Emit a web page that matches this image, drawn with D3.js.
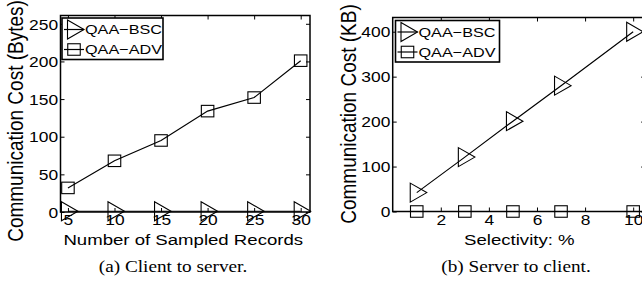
<!DOCTYPE html>
<html>
<head>
<meta charset="utf-8">
<script src="https://cdn.jsdelivr.net/npm/d3@7"></script>
<style>
  html, body { margin: 0; padding: 0; background: #fff; }
  svg { display: block; }
  text { font-family: "Liberation Sans", Arial, sans-serif; fill: #000; }
  text.caption { font-family: "Liberation Serif", "Times New Roman", serif; }
</style>
</head>
<body>
<div id="chart"></div>
<script>
// (a) client to server
const sampledRecords = [5, 10, 15, 20, 25, 30];
const bscBytes = [1, 1, 1, 1, 1, 1];
const advBytes = [32, 68, 95, 134, 152, 201];
const recordTicks = [5, 10, 15, 20, 25, 30];
const bytesTicks = [0, 50, 100, 150, 200, 250];

// (b) server to client
const selectivity = [1, 3, 5, 7, 10];
const bscKB = [42, 121, 201, 280, 400];
const advKB = [0, 0, 0, 0, 0];
const selTicks = [2, 4, 6, 8, 10];
const kbTicks = [0, 100, 200, 300, 400];

const seriesNames = ['QAA\u2212BSC', 'QAA\u2212ADV'];
const captions = ['(a) Client to server.', '(b) Server to client.'];

const W = 642, H = 285;
const SX = 1.2; // glyphs in the picture are stretched sideways

const svg = d3.select('#chart').append('svg')
  .attr('width', W)
  .attr('height', H);

const triPath = 'M-6.5,-9.5L10,0L-6.5,9.5Z';

function drawPanel(cfg) {
  const x = d3.scaleLinear().domain(cfg.xDomain).range(cfg.xRange);
  const y = d3.scaleLinear().domain(cfg.yDomain).range(cfg.yRange);
  const [x0, x1] = cfg.xRange;
  const [y0, y1] = cfg.yRange; // y0 bottom, y1 top

  const g = svg.append('g');

  // ticks, inside the box, on all four sides
  const bottom = g.append('g').attr('transform', `translate(0,${y0})`)
    .call(d3.axisBottom(x).tickValues(cfg.xTicks).tickSizeInner(-4).tickSizeOuter(0).tickPadding(3));
  const top = g.append('g').attr('transform', `translate(0,${y1})`)
    .call(d3.axisTop(x).tickValues(cfg.xTicks).tickSizeInner(-4).tickSizeOuter(0).tickFormat(''));
  const left = g.append('g').attr('transform', `translate(${x0},0)`)
    .call(d3.axisLeft(y).tickValues(cfg.yTicks).tickSizeInner(-4).tickSizeOuter(0).tickPadding(2));
  const right = g.append('g').attr('transform', `translate(${x1},0)`)
    .call(d3.axisRight(y).tickValues(cfg.yTicks).tickSizeInner(-4).tickSizeOuter(0).tickFormat(''));

  [bottom, top, left, right].forEach(a => {
    a.select('.domain').remove();
    a.selectAll('line').attr('stroke', '#000').attr('stroke-width', 1);
    a.selectAll('text')
      .attr('font-size', 14.5)
      .attr('fill', '#000')
      .attr('transform', `scale(${SX},1)`);
  });
  left.selectAll('text').attr('dy', '0.36em');

  // box
  g.append('rect')
    .attr('x', x0).attr('y', y1)
    .attr('width', x1 - x0).attr('height', y0 - y1)
    .attr('fill', 'none').attr('stroke', '#000').attr('stroke-width', 1.5);

  const line = d3.line().x(d => x(d[0])).y(d => y(d[1]));

  cfg.series.forEach((s, i) => {
    const pts = cfg.xs.map((v, j) => [v, s[j]]);
    g.append('path')
      .attr('d', line(pts))
      .attr('fill', 'none').attr('stroke', '#000').attr('stroke-width', 1.2);
    const m = g.append('g').selectAll('g').data(pts).join('g')
      .attr('transform', d => `translate(${x(d[0])},${y(d[1])})`);
    if (i === 0) {
      m.append('path').attr('d', triPath)
        .attr('fill', 'none').attr('stroke', '#000').attr('stroke-width', 1.1);
    } else {
      m.append('rect').attr('x', -6.25).attr('y', -5.75).attr('width', 12.5).attr('height', 11.5)
        .attr('fill', 'none').attr('stroke', '#000').attr('stroke-width', 1.1);
    }
  });

  // legend
  const lg = g.append('g').attr('transform', `translate(${cfg.legend[0]},${cfg.legend[1]})`);
  lg.append('rect').attr('width', cfg.legendW).attr('height', 41.5)
    .attr('fill', '#fff').attr('stroke', '#000').attr('stroke-width', 1.6);
  seriesNames.forEach((name, i) => {
    const row = lg.append('g').attr('transform', `translate(0,${11.5 + i * 20})`);
    row.append('line').attr('x1', 2).attr('x2', 22)
      .attr('stroke', '#000').attr('stroke-width', 1.2);
    if (i === 0) {
      row.append('path').attr('d', triPath).attr('transform', 'translate(12,0)')
        .attr('fill', 'none').attr('stroke', '#000').attr('stroke-width', 1.1);
    } else {
      row.append('rect').attr('x', 12 - 6.25).attr('y', -5.75).attr('width', 12.5).attr('height', 11.5)
        .attr('fill', 'none').attr('stroke', '#000').attr('stroke-width', 1.1);
    }
    row.append('text')
      .attr('transform', `translate(23,0) scale(${SX},1)`)
      .attr('dy', '0.36em')
      .attr('font-size', 13.5)
      .text(name);
  });

  // axis titles
  g.append('text')
    .attr('transform', `translate(${(x0 + Math.min(x1, W)) / 2 + cfg.xLabelShift},${y0 + 33}) scale(${SX},1)`)
    .attr('text-anchor', 'middle')
    .attr('font-size', 15.5)
    .text(cfg.xLabel);
  g.append('text')
    .attr('transform', `translate(${cfg.yLabelX},${cfg.yLabelY}) scale(${SX},1) rotate(-90)`)
    .attr('text-anchor', 'middle')
    .attr('font-size', 19)
    .text(cfg.yLabel);

  // sub-figure caption
  g.append('text')
    .attr('class', 'caption')
    .attr('transform', `translate(${cfg.captionX},${272}) scale(1.1,1)`)
    .attr('text-anchor', 'middle')
    .attr('font-size', 17.5)
    .text(cfg.caption);
}

drawPanel({
  xDomain: [4.2, 31], xRange: [60.5, 310],
  yDomain: [0, 261], yRange: [212, 15.5],
  xTicks: recordTicks, yTicks: bytesTicks,
  xs: sampledRecords, series: [bscBytes, advBytes],
  legend: [62, 18], legendW: 101,
  xLabel: 'Number of Sampled Records', xLabelShift: -2,
  yLabel: 'Communication Cost (Bytes)', yLabelX: 23, yLabelY: 121,
  caption: captions[0], captionX: 173
});

drawPanel({
  xDomain: [0, 10.5], xRange: [392.7, 645.2],
  yDomain: [0, 431.6], yRange: [211.5, 17.5],
  xTicks: selTicks, yTicks: kbTicks,
  xs: selectivity, series: [bscKB, advKB],
  legend: [395.5, 20.5], legendW: 104,
  xLabel: 'Selectivity: %', xLabelShift: 2,
  yLabel: 'Communication Cost (KB)', yLabelX: 356, yLabelY: 114,
  caption: captions[1], captionX: 516
});
</script>
</body>
</html>
